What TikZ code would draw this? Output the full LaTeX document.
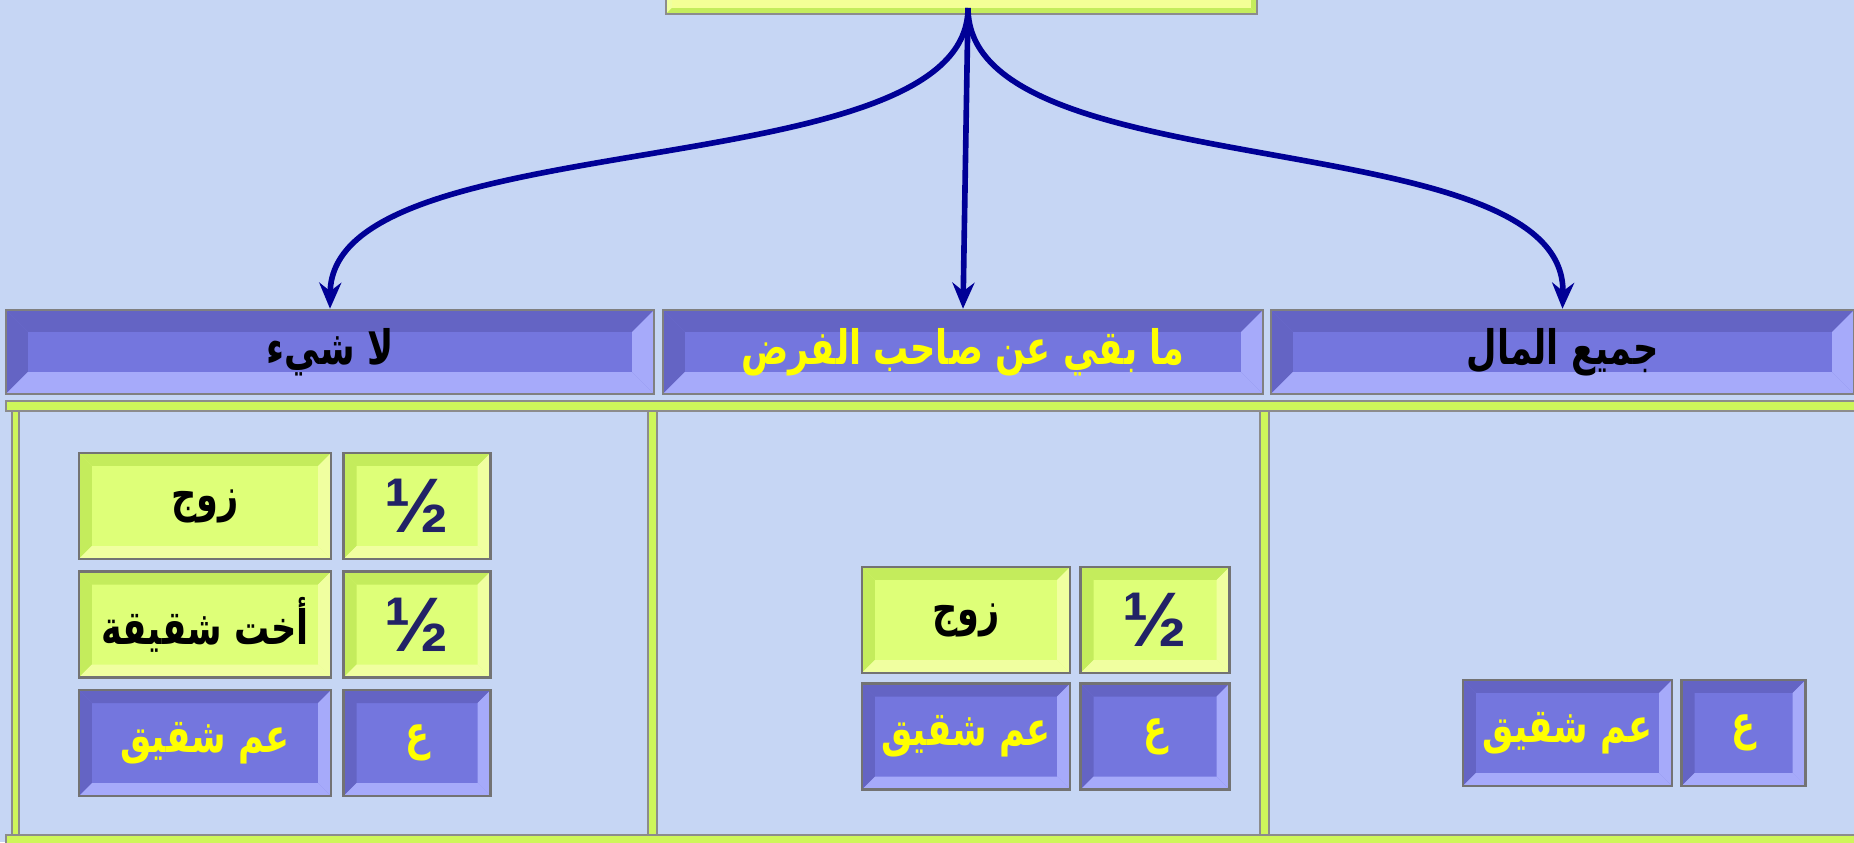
\documentclass[tikz,border=0pt]{standalone}
\usepackage{fontspec}
\setmainfont{Liberation Sans}
\newfontfamily\arabicfont[Script=Arabic]{DejaVu Sans}
\TeXXeTstate=1
\usetikzlibrary{positioning,arrows.meta}

\definecolor{bgblue}{RGB}{198,214,244}
\definecolor{lime}{RGB}{222,255,120}
\definecolor{limedark}{RGB}{196,236,92}
\definecolor{limelight}{RGB}{240,255,160}
\definecolor{framelime}{RGB}{206,246,90}
\definecolor{topyellow}{RGB}{244,255,150}
\definecolor{slate}{RGB}{116,118,222}
\definecolor{slatedark}{RGB}{100,100,196}
\definecolor{slatelight}{RGB}{166,170,250}
\definecolor{arrowblue}{RGB}{0,0,150}
\definecolor{fracblue}{RGB}{34,34,102}
\definecolor{goldtext}{RGB}{255,255,0}

\newcommand{\artext}[1]{\scalebox{0.74}[1]{\beginR #1\endR}}

\tikzset{
  bevel/.style n args={3}{path picture={
    \path (path picture bounding box.south west) coordinate (bsw)
          (path picture bounding box.south east) coordinate (bse)
          (path picture bounding box.north west) coordinate (bnw)
          (path picture bounding box.north east) coordinate (bne);
    \fill[#1] (bnw) -- (bne) -- ([xshift=-#3,yshift=-#3]bne) -- ([xshift=#3,yshift=-#3]bnw) -- cycle;
    \fill[#1] (bnw) -- (bsw) -- ([xshift=#3,yshift=#3]bsw) -- ([xshift=#3,yshift=-#3]bnw) -- cycle;
    \fill[#2] (bsw) -- (bse) -- ([xshift=-#3,yshift=#3]bse) -- ([xshift=#3,yshift=#3]bsw) -- cycle;
    \fill[#2] (bse) -- (bne) -- ([xshift=-#3,yshift=-#3]bne) -- ([xshift=-#3,yshift=#3]bse) -- cycle;
  }}
}

\tikzstyle{limecell} = [draw=black!55, line width=0.7pt, fill=lime, bevel={limedark}{limelight}{0.13cm}, minimum height=1.06cm, inner sep=0pt, font=\arabicfont\bfseries\fontsize{13.5}{16}\selectfont]
\tikzstyle{slatecell} = [draw=black!55, line width=0.7pt, fill=slate, bevel={slatedark}{slatelight}{0.13cm}, minimum height=1.06cm, inner sep=0pt, text=goldtext, font=\arabicfont\bfseries\fontsize{13.5}{16}\selectfont]
\tikzstyle{header} = [draw=black!50, line width=0.7pt, fill=slate, bevel={slatedark}{slatelight}{0.22cm}, minimum height=0.84cm, inner sep=0pt, font=\arabicfont\bfseries\fontsize{13.5}{16}\selectfont]
\tikzstyle{fracnum} = [text=fracblue, font=\bfseries\fontsize{22}{24}\selectfont]
\tikzstyle{framebar} = [fill=framelime, draw=black!45, line width=0.5pt]
\tikzstyle{arrow} = [line width=1.6pt, draw=arrowblue, -{Stealth[length=0.26cm,width=0.22cm]}]

\begin{document}
\begin{tikzpicture}[x=0.01cm, y=-0.01cm]

\useasboundingbox (0,0) rectangle (1854,842);
\clip (0,0) rectangle (1854,842);
\fill[bgblue] (0,0) rectangle (1854,842);

% Frame of the three panels
\fill[framebar] (6,401) rectangle (1860,411);
\fill[framebar] (12,411) rectangle (19,850);
\fill[framebar] (648,411) rectangle (657,850);
\fill[framebar] (1260,411) rectangle (1269,850);
\fill[framebar] (6,835) rectangle (1860,850);

% Top box
\node (topbox) [draw=black!45, fill=topyellow, bevel={limelight}{limedark}{0.06cm}, minimum width=5.91cm, minimum height=0.74cm] at (961.5,-23) {};
\coordinate (src) at (968,8);

% Headers
\node (hdl) [header, minimum width=6.48cm] at (330,352) {\artext{لا شيء}};
\node (hdm) [header, minimum width=6.00cm, text=goldtext] at (963,352) {\artext{ما بقي عن صاحب الفرض}};
\node (hdr) [header, minimum width=5.83cm] at (1562.5,352) {\artext{جميع المال}};

% Panel 1
\node (zawj1) [limecell, minimum width=2.52cm] at (205,506) {\artext{زوج}};
\node (half1) [limecell, fracnum, minimum width=1.47cm, right=0.1cm of zawj1] {½};
\node (ukht1) [limecell, minimum width=2.52cm, below=0.1cm of zawj1] {\artext{أخت شقيقة}};
\node (half2) [limecell, fracnum, minimum width=1.47cm, right=0.1cm of ukht1] {½};
\node (amm1) [slatecell, minimum width=2.52cm, below=0.1cm of ukht1] {\artext{عم شقيق}};
\node (asab1) [slatecell, minimum width=1.47cm, right=0.1cm of amm1] {\artext{ع}};

% Panel 2
\node (zawj2) [limecell, minimum width=2.08cm] at (966,620) {\artext{زوج}};
\node (half3) [limecell, fracnum, minimum width=1.49cm, right=0.08cm of zawj2] {½};
\node (amm2) [slatecell, minimum width=2.08cm, below=0.08cm of zawj2] {\artext{عم شقيق}};
\node (asab2) [slatecell, minimum width=1.49cm, right=0.08cm of amm2] {\artext{ع}};

% Panel 3
\node (amm3) [slatecell, minimum width=2.09cm] at (1567.5,733) {\artext{عم شقيق}};
\node (asab3) [slatecell, minimum width=1.24cm, right=0.07cm of amm3] {\artext{ع}};

% Arrows
\draw [arrow] (src) .. controls (968,190) and (332,120) .. (hdl.north);
\draw [arrow] (src) -- (hdm.north);
\draw [arrow] (src) .. controls (968,190) and (1567,120) .. (hdr.north);

\end{tikzpicture}
\end{document}
